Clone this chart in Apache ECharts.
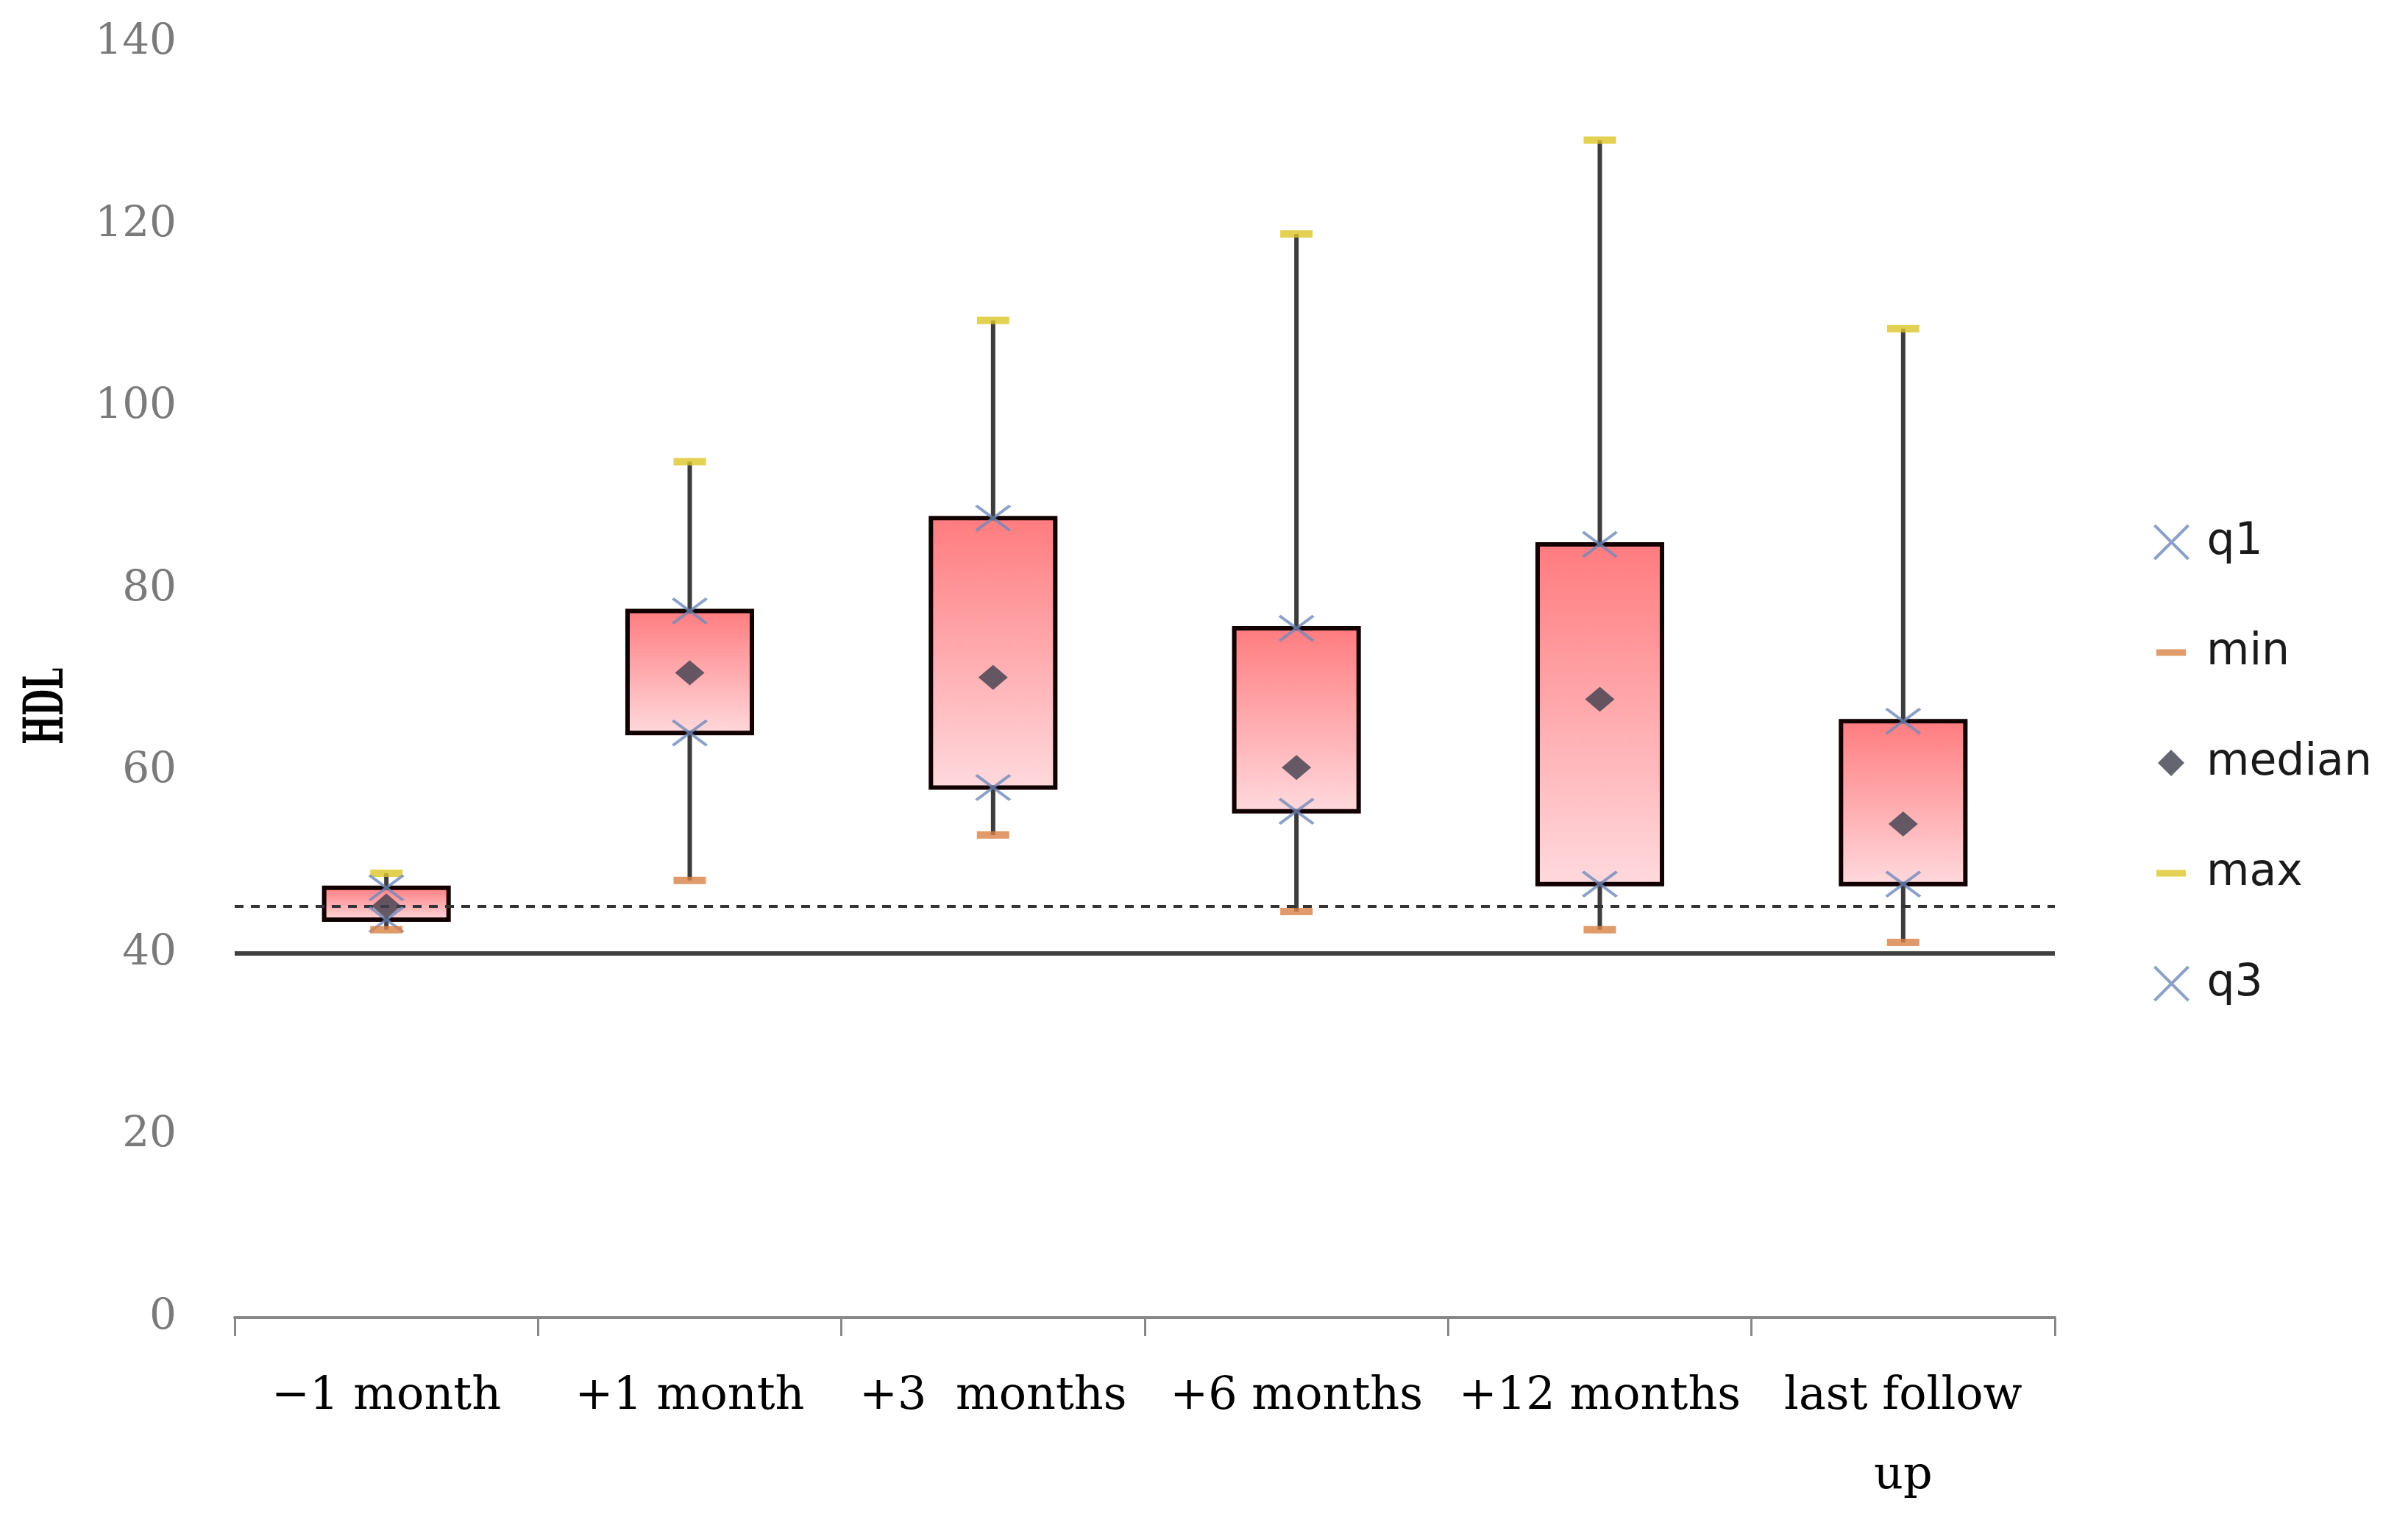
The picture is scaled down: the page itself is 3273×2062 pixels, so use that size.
<!DOCTYPE html>
<html>
<head>
<meta charset="utf-8">
<script src="https://cdn.jsdelivr.net/npm/echarts@6/dist/echarts.min.js"></script>
<style>
html,body{margin:0;padding:0;background:#fff;}
#chart{width:3273px;height:2062px;}
</style>
</head>
<body>
<div id="chart"></div>
<script>
const categories = ['\u22121 month', '+1 month', '+3  months', '+6 months', '+12 months', 'last follow\nup'];
const minVals    = [42.6, 48.0, 53.0, 44.6, 42.6, 41.2];
const q1Vals     = [43.7, 64.2, 58.2, 55.6, 47.6, 47.6];
const medianVals = [45.2, 70.8, 70.3, 60.4, 67.9, 54.2];
const q3Vals     = [47.2, 77.6, 87.8, 75.7, 84.9, 65.5];
const maxVals    = [48.8, 94.0, 109.5, 119.0, 129.3, 108.6];
const refDashed = 45.2;
const refSolid = 40;
const yTicks = { min: 0, max: 140, interval: 20 };
const yName = 'HDL';
const legendNames = ['q1', 'min', 'median', 'max', 'q3'];

const xPath = 'path://M0,0L10,10M10,0L0,10';
const xColor = '#7189BA';
const minColor = '#D98246';
const maxColor = '#DCC629';
const medColor = '#3E3E4E';

const whiskerData = categories.map((c, i) => [i, minVals[i], maxVals[i]]);
const boxData = categories.map((c, i) => [i, q1Vals[i], q3Vals[i]]);

// one legend block per entry so each icon can keep its own size
const legendIcon = {
  q1:     { icon: xPath, w: 50, h: 46, style: { color: 'none', borderColor: xColor, borderWidth: 4 } },
  min:    { icon: 'rect', w: 40, h: 9, style: { color: minColor, borderWidth: 0 } },
  median: { icon: 'diamond', w: 36, h: 36, style: { color: medColor, borderWidth: 0 } },
  max:    { icon: 'rect', w: 40, h: 9, style: { color: maxColor, borderWidth: 0 } },
  q3:     { icon: xPath, w: 50, h: 46, style: { color: 'none', borderColor: xColor, borderWidth: 4 } }
};
const legendCenterX = 2951, legendTextX = 2999, legendTop0 = 737, legendStep = 150, legendLH = 60;
const legends = legendNames.map((n, i) => {
  const L = legendIcon[n];
  const left = legendCenterX - L.w / 2;
  return {
    orient: 'horizontal',
    left: left,
    top: legendTop0 + i * legendStep - legendLH / 2,
    itemWidth: L.w,
    itemHeight: L.h,
    padding: 0,
    textStyle: { fontFamily: 'DejaVu Sans', fontSize: 60, lineHeight: legendLH, color: '#1a1a1a',
                 padding: [0, 0, 0, legendTextX - (left + L.w + 5)] },
    data: [{ name: n, icon: L.icon, itemStyle: L.style }]
  };
});

const chart = echarts.init(document.getElementById('chart'));
chart.setOption({
  animation: false,
  backgroundColor: '#ffffff',
  grid: { left: 319, right: 480, top: 58, bottom: 271, containLabel: false },
  graphic: [{
    type: 'text',
    x: 66, y: 960,
    rotation: Math.PI / 2,
    scaleX: 0.56,
    style: {
      text: yName,
      fontFamily: 'DejaVu Serif',
      fontSize: 74,
      fontWeight: 'bold',
      fill: '#000000',
      align: 'center',
      verticalAlign: 'middle'
    },
    silent: true
  }],
  legend: legends,
  xAxis: {
    type: 'category',
    data: categories,
    boundaryGap: true,
    axisLine: { show: true, lineStyle: { color: '#888888', width: 4 } },
    axisTick: { show: true, length: 25, interval: 0, lineStyle: { color: '#888888', width: 3 } },
    axisLabel: { interval: 0, color: '#000000', fontFamily: 'DejaVu Serif', fontSize: 62, lineHeight: 108, margin: 54 },
    splitLine: { show: false }
  },
  yAxis: {
    type: 'value',
    min: yTicks.min,
    max: yTicks.max,
    interval: yTicks.interval,
    axisLine: { show: false },
    axisTick: { show: false },
    splitLine: { show: false },
    axisLabel: { color: '#7a7a7a', fontFamily: 'DejaVu Serif', fontSize: 58, margin: 79 }
  },
  series: [
    {
      name: 'whisker',
      type: 'custom',
      data: whiskerData,
      z: 1,
      silent: true,
      renderItem: function (params, api) {
        const lo = api.coord([api.value(0), api.value(1)]);
        const hi = api.coord([api.value(0), api.value(2)]);
        return {
          type: 'line',
          shape: { x1: lo[0], y1: lo[1], x2: hi[0], y2: hi[1] },
          style: { stroke: '#3c3c3c', lineWidth: 6 }
        };
      },
      markLine: {
        silent: true,
        symbol: 'none',
        label: { show: false },
        data: [
          { yAxis: refDashed, lineStyle: { type: [12, 10], color: '#333333', width: 4 } },
          { yAxis: refSolid, lineStyle: { type: 'solid', color: '#404040', width: 6 } }
        ]
      }
    },
    {
      name: 'box',
      type: 'custom',
      data: boxData,
      z: 2,
      silent: true,
      renderItem: function (params, api) {
        const lo = api.coord([api.value(0), api.value(1)]);
        const hi = api.coord([api.value(0), api.value(2)]);
        const bw = api.size([1, 0])[0] * 0.41;
        return {
          type: 'rect',
          shape: { x: lo[0] - bw / 2, y: hi[1], width: bw, height: lo[1] - hi[1] },
          style: {
            fill: { type: 'linear', x: 0, y: 0, x2: 0, y2: 1, colorStops: [
              { offset: 0, color: '#FF7B7E' },
              { offset: 1, color: '#FFDADE' }
            ] },
            stroke: '#120000',
            lineWidth: 6
          }
        };
      }
    },
    {
      name: 'q1', type: 'scatter', data: q1Vals, z: 5,
      symbol: xPath, symbolSize: [46, 34],
      itemStyle: { color: 'none', borderColor: xColor, borderWidth: 4 }
    },
    {
      name: 'min', type: 'scatter', data: minVals, z: 5,
      symbol: 'rect', symbolSize: [44, 10],
      itemStyle: { color: minColor }
    },
    {
      name: 'median', type: 'scatter', data: medianVals, z: 5,
      symbol: 'diamond', symbolSize: [40, 34],
      itemStyle: { color: medColor }
    },
    {
      name: 'max', type: 'scatter', data: maxVals, z: 5,
      symbol: 'rect', symbolSize: [44, 10],
      itemStyle: { color: maxColor }
    },
    {
      name: 'q3', type: 'scatter', data: q3Vals, z: 5,
      symbol: xPath, symbolSize: [46, 34],
      itemStyle: { color: 'none', borderColor: xColor, borderWidth: 4 }
    }
  ]
});
</script>
</body>
</html>
